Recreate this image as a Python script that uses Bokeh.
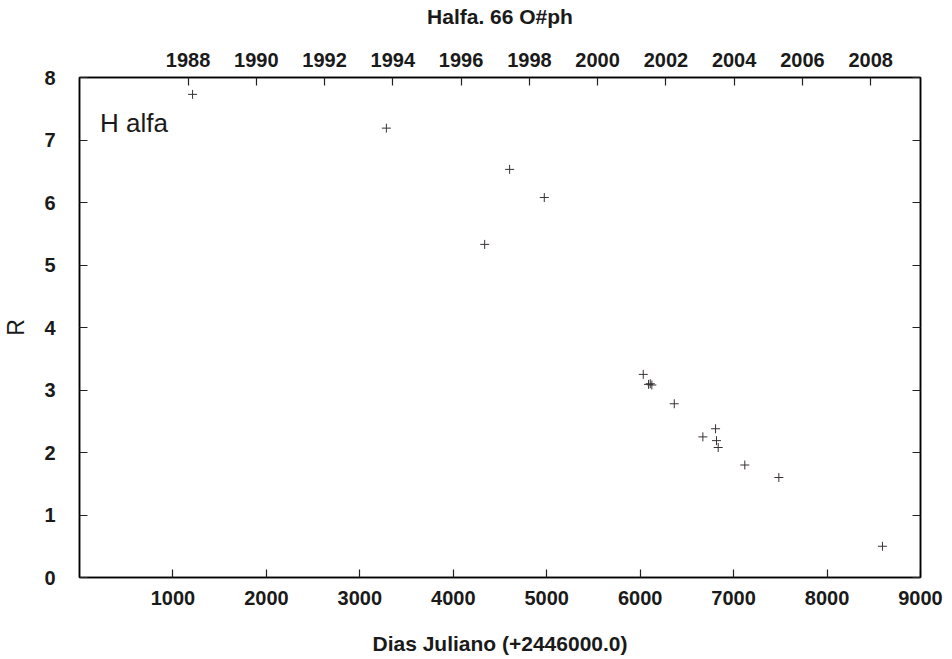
from bokeh.plotting import figure
from bokeh.models import Range1d, LinearAxis, FixedTicker, Label, CustomJSTickFormatter
from bokeh.embed import file_html
from bokeh.resources import INLINE

# Data (Julian days offset from 2446000.0, R magnitude)
jd = [1210, 3284, 4336, 4603, 4974, 6033, 6090, 6108, 6125, 6365, 6671, 6807, 6817, 6835, 7120, 7484, 8593]
r_vals = [7.73, 7.19, 5.33, 6.53, 6.08, 3.25, 3.09, 3.10, 3.08, 2.78, 2.25, 2.38, 2.19, 2.08, 1.80, 1.60, 0.50]

x_ticks = [1000, 2000, 3000, 4000, 5000, 6000, 7000, 8000, 9000]
y_ticks = [0, 1, 2, 3, 4, 5, 6, 7, 8]
year_labels = ["1988", "1990", "1992", "1994", "1996", "1998", "2000", "2002", "2004", "2006", "2008"]
year_jd = [1161.5, 1892.5, 2622.5, 3353.5, 4083.5, 4814.5, 5544.5, 6275.5, 7005.5, 7736.5, 8466.5]

FONT = "Liberation Sans"

p = figure(width=952, height=659, x_range=Range1d(0, 9000), y_range=Range1d(0, 8),
           output_backend="svg", toolbar_location=None,
           min_border_left=78, min_border_right=32, min_border_top=77, min_border_bottom=82)
p.background_fill_color = "white"
p.border_fill_color = "white"
p.outline_line_color = "black"
p.outline_line_width = 1.5
p.xgrid.visible = False
p.ygrid.visible = False

def style(ax, show_labels=True):
    ax.major_tick_in = 8
    ax.major_tick_out = 0
    ax.minor_tick_in = 0
    ax.minor_tick_out = 0
    ax.axis_line_color = "black"
    ax.axis_line_width = 1.5
    ax.major_tick_line_color = "#222222"
    ax.major_tick_line_width = 1.2
    ax.major_label_text_font = FONT
    ax.major_label_text_font_style = "bold"
    ax.major_label_text_font_size = "20px"
    ax.major_label_text_color = "#1a1a1a" if show_labels else None
    ax.axis_label_text_font = FONT
    ax.axis_label_text_color = "#1a1a1a"

# bottom axis
xa = p.xaxis[0]
xa.ticker = FixedTicker(ticks=x_ticks)
style(xa)
xa.major_label_standoff = 13
xa.axis_label = "Dias Juliano (+2446000.0)"
xa.axis_label_text_font_style = "bold"
xa.axis_label_text_font_size = "21px"
xa.axis_label_standoff = 24

# left axis
ya = p.yaxis[0]
ya.ticker = FixedTicker(ticks=y_ticks)
style(ya)
ya.major_label_standoff = 24
ya.axis_label = "R"
ya.axis_label_text_font_style = "normal"
ya.axis_label_text_font_size = "23px"
ya.axis_label_standoff = 12

# top axis (years)
top = LinearAxis(ticker=FixedTicker(ticks=year_jd),
                 formatter=CustomJSTickFormatter(args=dict(yr_pos=year_jd, yr_lab=year_labels),
                                                 code="const i = yr_pos.indexOf(tick); return i >= 0 ? yr_lab[i] : '';"))
style(top)
top.major_label_standoff = 11
top.axis_label = "Halfa. 66 O#ph"
top.axis_label_text_font_style = "bold"
top.axis_label_text_font_size = "21px"
top.axis_label_standoff = 22
p.add_layout(top, "above")

# right axis (ticks only)
right = LinearAxis(ticker=FixedTicker(ticks=y_ticks))
style(right, show_labels=False)
right.major_label_text_font_size = "0px"
right.major_label_standoff = 0
p.add_layout(right, "right")

p.scatter(jd, r_vals, marker="cross", size=9, line_color="#3a3232", line_width=1)

p.add_layout(Label(x=220, y=7.28, text="H alfa", text_font=FONT, text_font_size="26px",
                   text_color="#1a1a1a", text_baseline="alphabetic"))

open("out.html", "w").write(file_html(p, INLINE))
